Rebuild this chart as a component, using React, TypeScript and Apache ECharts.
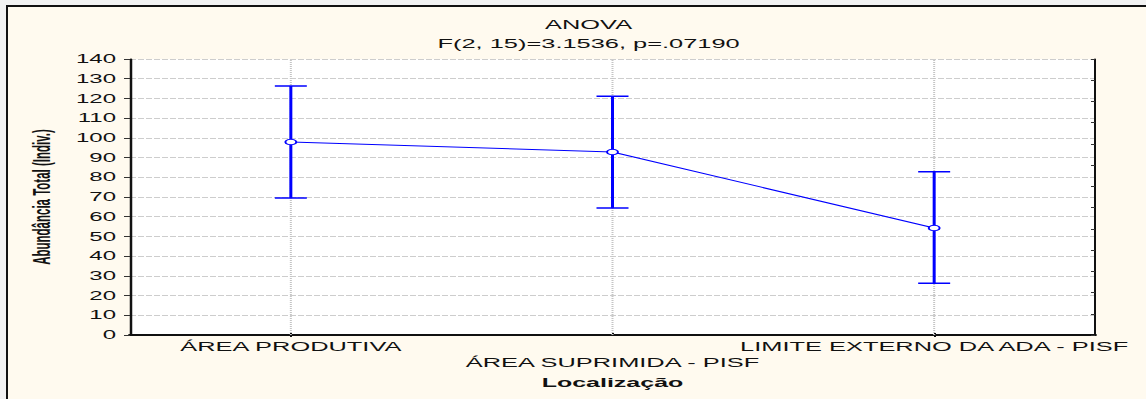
import React, { useEffect, useRef } from "react";
import * as echarts from "echarts";

const categories = ["ÁREA PRODUTIVA", "ÁREA SUPRIMIDA - PISF", "LIMITE EXTERNO DA ADA - PISF"];
const means = [97.9, 92.8, 54.3];
const lower = [69.5, 64.4, 26.2];
const upper = [126.3, 121.1, 82.8];
const yMin = 0;
const yMax = 140;
const yStep = 10;
const titleText = "ANOVA";
const statText = "F(2, 15)=3.1536, p=.07190";
const xName = "Localização";
const yName = "Abundância Total (Indiv.)";

const FONT = "'Liberation Sans', Arial, sans-serif";
const BLUE = "#0000ff";

export default function App() {
  const ref = useRef<HTMLDivElement>(null);
  useEffect(() => {
    if (!ref.current) return;
    const chart = echarts.init(ref.current, null, { renderer: "svg" });
    const errData = categories.map((_, i) => [i, lower[i], upper[i]]);
    const vgrid = categories.map((_, i) => [i]);
    chart.setOption({
      animation: false,
      backgroundColor: "#f2f2f2",
      textStyle: { fontFamily: FONT },
      graphic: [
        { type: "rect", z: -10, shape: { x: 3.5, y: 6, width: 600, height: 500 }, style: { fill: "#fffaef" } },
        { type: "line", z: -9, shape: { x1: 3.5, y1: 6, x2: 600, y2: 6 }, style: { stroke: "#111", lineWidth: 2 } },
        { type: "line", z: -9, shape: { x1: 3.5, y1: 5, x2: 3.5, y2: 500 }, style: { stroke: "#111", lineWidth: 1 } },
      ],
      title: {
        text: titleText + "\n" + statText,
        left: 289.3,
        top: 10.5,
        textAlign: "center",
        textStyle: { fontFamily: FONT, fontSize: 12.7, fontWeight: "normal", color: "#111", lineHeight: 18.5 },
      },
      grid: { left: 65, top: 59, width: 482.5, height: 276, show: true, backgroundColor: "#ffffff", borderWidth: 0 },
      xAxis: [
        {
          type: "category",
          data: categories,
          position: "bottom",
          name: xName,
          nameLocation: "middle",
          nameGap: 39,
          nameTextStyle: { fontFamily: FONT, fontSize: 12.5, fontWeight: "bold", color: "#111" },
          axisLine: { show: true, lineStyle: { color: "#111", width: 2 } },
          axisTick: { show: true, inside: true, length: 2, alignWithLabel: true, lineStyle: { color: "#111", width: 1 } },
          axisLabel: {
            interval: 0,
            margin: 4,
            fontSize: 12.7,
            lineHeight: 16,
            color: "#111",
            fontFamily: FONT,
            formatter: (v: string, i: number) => (i === 1 ? "\n" + v : v),
          },
          splitLine: { show: false },
        },
        {
          type: "category",
          data: categories,
          position: "top",
          axisLine: { show: true, lineStyle: { color: "#111", width: 1.5 } },
          axisTick: { show: true, inside: true, length: 2, alignWithLabel: true, lineStyle: { color: "#111", width: 1 } },
          axisLabel: { show: false },
          splitLine: { show: false },
        },
      ],
      yAxis: [
        {
          type: "value",
          min: yMin,
          max: yMax,
          interval: yStep,
          position: "left",
          name: yName,
          nameLocation: "middle",
          nameGap: 38,
          nameTextStyle: { fontFamily: FONT, fontSize: 11.5, fontWeight: "bold", color: "#111" },
          axisLine: { show: true, lineStyle: { color: "#111", width: 1.25 } },
          axisTick: { show: true, inside: false, length: 3, lineStyle: { color: "#333", width: 1 } },
          axisLabel: { margin: 7, fontSize: 12, color: "#111", fontFamily: FONT },
          splitLine: { show: true, lineStyle: { color: "#cdcdcd", width: 1, type: [3, 1] } },
        },
        {
          type: "value",
          min: 0,
          max: 13,
          interval: 1,
          position: "right",
          axisLine: { show: true, lineStyle: { color: "#111", width: 1 } },
          axisTick: { show: true, inside: true, length: 2, lineStyle: { color: "#333", width: 1 } },
          axisLabel: { show: false },
          splitLine: { show: false },
        },
      ],
      series: [
        {
          type: "custom",
          name: "vgrid",
          z: 1,
          silent: true,
          data: vgrid,
          encode: { x: 0 },
          renderItem: (params: any, api: any) => {
            const i = api.value(0);
            const a = api.coord([i, yMin]);
            const b = api.coord([i, yMax]);
            return {
              type: "line",
              shape: { x1: a[0], y1: a[1], x2: b[0], y2: b[1] },
              style: { stroke: "#c4c4c4", lineWidth: 1, lineDash: [1, 1] },
            };
          },
        },
        {
          type: "custom",
          name: "ci",
          z: 2,
          data: errData,
          encode: { x: 0, y: [1, 2] },
          renderItem: (params: any, api: any) => {
            const i = api.value(0);
            const lo = api.coord([i, api.value(1)]);
            const hi = api.coord([i, api.value(2)]);
            const cap = 8;
            const style = { stroke: BLUE, lineWidth: 1.5 };
            return {
              type: "group",
              children: [
                { type: "line", shape: { x1: lo[0], y1: lo[1], x2: hi[0], y2: hi[1] }, style },
                { type: "line", shape: { x1: hi[0] - cap, y1: hi[1], x2: hi[0] + cap, y2: hi[1] }, style },
                { type: "line", shape: { x1: lo[0] - cap, y1: lo[1], x2: lo[0] + cap, y2: lo[1] }, style },
              ],
            };
          },
        },
        {
          type: "line",
          name: "mean",
          z: 3,
          data: means,
          symbol: "circle",
          symbolSize: 5.5,
          itemStyle: { color: "#ffffff", borderColor: BLUE, borderWidth: 1 },
          lineStyle: { color: BLUE, width: 1 },
        },
      ],
    });
    return () => chart.dispose();
  }, []);
  return (
    <div
      ref={ref}
      style={{
        position: "absolute",
        left: 0,
        top: 0,
        width: 573,
        height: 399,
        transform: "scaleX(2)",
        transformOrigin: "0 0",
      }}
    />
  );
}
